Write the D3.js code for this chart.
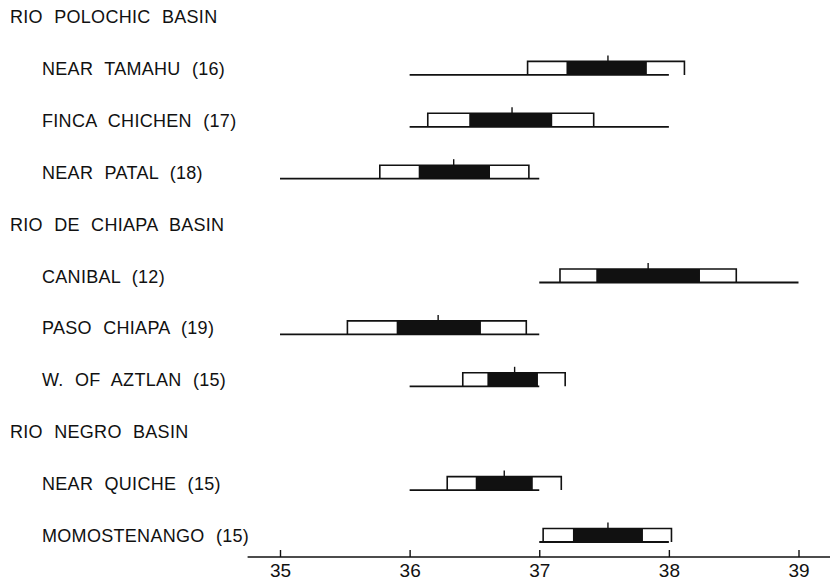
<!DOCTYPE html>
<html>
<head>
<meta charset="utf-8">
<script src="https://cdn.jsdelivr.net/npm/d3@7"></script>
<style>
	body{ margin:0; background:#fff; }
	text{ font-family:"Liberation Sans", Arial, sans-serif; fill:#111; }
</style>
</head>
<body>
<div id="chart"></div>
<script>

// basins and localities (sample size in brackets)
const basins = ["RIO POLOCHIC BASIN", "RIO DE CHIAPA BASIN", "RIO NEGRO BASIN"];
const localities = [
	"NEAR TAMAHU (16)", "FINCA CHICHEN (17)", "NEAR PATAL (18)",
	"CANIBAL (12)", "PASO CHIAPA (19)", "W. OF AZTLAN (15)",
	"NEAR QUICHE (15)", "MOMOSTENANGO (15)"
];
const localityBasin = [0, 0, 0, 1, 1, 1, 2, 2, 2];

// range, mean, standard deviation box, 2 s.e. box
const rangeMin = [36.0, 36.0, 35.0, 37.0, 35.0, 36.0, 36.0, 37.0];
const rangeMax = [38.0, 38.0, 37.0, 39.0, 37.0, 37.0, 37.0, 38.0];
const means    = [37.53, 36.79, 36.34, 37.84, 36.22, 36.81, 36.73, 37.53];
const sdLow    = [36.91, 36.14, 35.77, 37.16, 35.52, 36.41, 36.29, 37.03];
const sdHigh   = [38.12, 37.42, 36.92, 38.52, 36.90, 37.20, 37.17, 38.02];
const seLow    = [37.21, 36.46, 36.07, 37.44, 35.90, 36.60, 36.51, 37.26];
const seHigh   = [37.83, 37.10, 36.62, 38.24, 36.55, 36.99, 36.95, 37.80];

const xTicks = [35, 36, 37, 38, 39];

const width = 830, height = 583;
const boxH = 13.5, meanTick = 6;

// build rows: basin header followed by its localities
const rows = [];
basins.forEach(function(b, bi){
	rows.push({ label: b, header: true });
	localities.forEach(function(l, i){
		if( localityBasin[i] === bi ){
			rows.push({
				label: l, header: false,
				min: rangeMin[i], max: rangeMax[i], mean: means[i],
				sdLo: sdLow[i], sdHi: sdHigh[i], seLo: seLow[i], seHi: seHigh[i]
			});
		}
	});
});

const x = d3.scaleLinear().domain([35, 39]).range([280, 798.5]);
const y = d3.scalePoint().domain(d3.range(rows.length)).range([23, 542]);

const svg = d3.select("#chart")
	.append("svg")
	.attr("width", width)
	.attr("height", height);

// labels
svg.append("g")
	.attr("class", "labels")
	.selectAll("text")
	.data(rows)
	.join("text")
		.attr("x", function(d){ return d.header ? 10 : 42; })
		.attr("y", function(d, i){ return y(i); })
		.attr("font-size", 18)
		.attr("letter-spacing", "0.3px")
		.attr("word-spacing", "6px")
		.text(function(d){ return d.label; });

const items = rows
	.map(function(d, i){ return Object.assign({ row: i }, d); })
	.filter(function(d){ return !d.header; });

const g = svg.append("g")
	.attr("class", "diagrams")
	.selectAll("g")
	.data(items)
	.join("g")
		.attr("transform", function(d){ return "translate(0," + y(d.row) + ")"; });

// standard deviation box, open at bottom
g.append("path")
	.attr("d", function(d){
		return "M" + x(d.sdLo) + ",0V" + (-boxH) + "H" + x(d.sdHi) + "V0";
	})
	.attr("fill", "#fff")
	.attr("stroke", "#111")
	.attr("stroke-width", 1.6);

// two standard errors
g.append("rect")
	.attr("x", function(d){ return x(d.seLo); })
	.attr("y", -boxH)
	.attr("width", function(d){ return x(d.seHi) - x(d.seLo); })
	.attr("height", boxH)
	.attr("fill", "#111");

// range
g.append("line")
	.attr("x1", function(d){ return x(d.min); })
	.attr("x2", function(d){ return x(d.max); })
	.attr("stroke", "#111")
	.attr("stroke-width", 1.8);

// mean
g.append("line")
	.attr("x1", function(d){ return x(d.mean); })
	.attr("x2", function(d){ return x(d.mean); })
	.attr("y1", -boxH)
	.attr("y2", -boxH - meanTick)
	.attr("stroke", "#111")
	.attr("stroke-width", 1.4);

// axis
const axisY = 557;
const axis = svg.append("g")
	.attr("transform", "translate(0," + axisY + ")")
	.call(d3.axisBottom(x)
		.tickValues(xTicks)
		.tickFormat(d3.format("d"))
		.tickSizeInner(-7)
		.tickSizeOuter(0)
		.tickPadding(7));

axis.select(".domain").remove();
axis.selectAll(".tick line").attr("stroke", "#111").attr("stroke-width", 1.4);
axis.selectAll(".tick text")
	.attr("font-size", 19)
	.attr("font-family", "Liberation Sans, Arial, sans-serif")
	.attr("fill", "#111");

axis.append("line")
	.attr("x1", x(34.75))
	.attr("x2", width)
	.attr("stroke", "#111")
	.attr("stroke-width", 1.6);

</script>
</body>
</html>
